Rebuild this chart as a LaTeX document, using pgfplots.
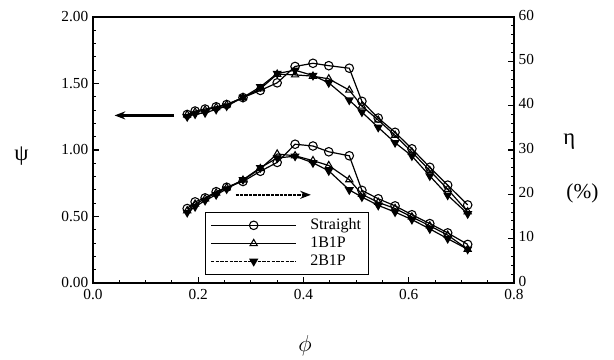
\documentclass[border=0pt]{standalone}
\usepackage{fontspec}
\setmainfont{Liberation Serif}
\usepackage{pgfplots}
\pgfplotsset{compat=1.18}
\usetikzlibrary{arrows.meta}
\begin{document}
\begin{tikzpicture}
\pgfplotsset{
  common/.style={
    scale only axis, width=315.75pt, height=199.5pt,
    xmin=0, xmax=0.8,
    tick align=inside,
    /pgf/number format/assume math mode=true,
    tick label style={font=\fontsize{11.5}{12}\selectfont},
    major tick length=4.5pt, minor tick length=2.5pt,
    every tick/.style={black, line width=0.8pt},
  },
  legimg/.style={legend image code/.code={%
    \draw[mark repeat=2,mark phase=2,##1] plot coordinates {(0pt,0pt) (32pt,0pt) (64pt,0pt)};
    \path (72pt,0pt);}},
  s1/.style={black, line width=0.9pt, mark=o, mark size=3.2pt, mark options={solid, line width=0.8pt}},
  s2/.style={black, line width=0.9pt, mark=triangle, mark size=3.1pt, mark options={solid, line width=0.8pt}},
  s3/.style={black, line width=0.9pt, mark=triangle*, mark size=3.1pt, mark options={solid, rotate=180, fill=black}},
}
\begin{axis}[common, name=ax,
  ymin=0, ymax=2,
  xtick={0,0.2,0.4,0.6,0.8}, ytick={0,0.5,1,1.5,2},
  minor x tick num=3, minor y tick num=4,
  xtick pos=bottom, ytick pos=left,
  xticklabel style={yshift=-1.5pt, /pgf/number format/.cd, fixed, fixed zerofill, precision=1},
  yticklabel style={/pgf/number format/.cd, fixed, fixed zerofill, precision=2},
  axis line style={line width=1.1pt},
  clip=false,
  legimg,
  legend cell align=left,
  legend style={at={(axis cs:0.212,0.537)}, anchor=north west, draw=black, line width=0.8pt,
    font=\fontsize{12}{12}\selectfont, row sep=0pt, inner xsep=4pt, inner ysep=3pt},
]
\addplot[s1] coordinates {
(0.179,1.267) (0.194,1.293) (0.213,1.308) (0.234,1.325) (0.254,1.342) (0.285,1.394)
(0.318,1.448) (0.350,1.505) (0.384,1.628) (0.418,1.652) (0.448,1.634) (0.487,1.615)
(0.511,1.366) (0.542,1.240) (0.574,1.133) (0.606,1.009) (0.640,0.870) (0.674,0.736) (0.712,0.587)};
\addlegendentry{Straight}
\addplot[s2] coordinates {
(0.179,1.265) (0.194,1.285) (0.213,1.300) (0.234,1.320) (0.254,1.340) (0.285,1.395)
(0.318,1.460) (0.350,1.570) (0.384,1.565) (0.418,1.555) (0.448,1.535) (0.487,1.450)
(0.511,1.330) (0.542,1.225) (0.574,1.110) (0.606,0.985) (0.640,0.845) (0.674,0.705) (0.712,0.535)};
\addlegendentry{1B1P}
\addplot[s3, legend image code/.code={%
    \draw[dash pattern=on 2.5pt off 1pt, line width=0.9pt, black] (0pt,0pt) -- (64pt,0pt);
    \draw[mark=triangle*, mark size=3.1pt, mark options={solid, rotate=180, fill=black}] plot coordinates {(32pt,0pt)};
    \path (72pt,0pt);}] coordinates {
(0.179,1.250) (0.194,1.270) (0.213,1.280) (0.234,1.305) (0.254,1.330) (0.285,1.395)
(0.318,1.475) (0.350,1.575) (0.384,1.600) (0.418,1.560) (0.448,1.505) (0.487,1.375)
(0.511,1.285) (0.542,1.170) (0.574,1.055) (0.606,0.955) (0.640,0.805) (0.674,0.660) (0.712,0.520)};
\addlegendentry{2B1P}
\draw[line width=2pt, -{Stealth[length=8pt,width=6pt]}] (axis cs:0.154,1.26) -- (axis cs:0.041,1.26);
\draw[line width=1.6pt, dash pattern=on 2.5pt off 0.8pt, -{Stealth[length=8pt,width=6pt]}] (axis cs:0.271,0.663) -- (axis cs:0.414,0.663);
\node[font=\fontsize{17}{17}\selectfont] at (axis cs:-0.136,0.957) {ψ};
\node[font=\fontsize{17}{17}\selectfont] at (axis cs:0.905,1.06) {η};
\node[font=\fontsize{16}{16}\selectfont] at (axis cs:0.930,0.671) {(\%)};
\node[font=\fontsize{17}{17}\selectfont] at (axis cs:0.403,-0.472) {$\phi$};
\end{axis}
\begin{axis}[common,
  axis x line=none, axis y line*=right,
  ymin=0, ymax=60, ytick={0,10,20,30,40,50,60}, minor y tick num=4,
  axis line style={line width=1.3pt},
  yticklabel style={yshift=1.5pt, /pgf/number format/.cd, fixed, precision=0},
]
\addplot[s1] coordinates {
(0.179,16.8) (0.194,18.3) (0.213,19.2) (0.234,20.6) (0.254,21.6) (0.285,22.9)
(0.318,25.2) (0.350,27.2) (0.384,31.3) (0.418,30.9) (0.448,29.6) (0.487,28.7)
(0.511,20.9) (0.542,19.0) (0.574,17.4) (0.606,15.4) (0.640,13.4) (0.674,11.3) (0.712,8.7)};
\addplot[s2] coordinates {
(0.179,16.3) (0.194,17.8) (0.213,19.0) (0.234,20.3) (0.254,21.5) (0.285,23.2)
(0.318,25.8) (0.350,29.1) (0.384,28.7) (0.418,27.6) (0.448,26.5) (0.487,23.3)
(0.511,20.0) (0.542,18.2) (0.574,16.8) (0.606,14.9) (0.640,12.9) (0.674,10.8) (0.712,7.6)};
\addplot[s3] coordinates {
(0.179,15.9) (0.194,17.2) (0.213,18.6) (0.234,19.9) (0.254,21.2) (0.285,23.3)
(0.318,26.0) (0.350,28.2) (0.384,28.6) (0.418,27.1) (0.448,25.3) (0.487,21.0)
(0.511,19.4) (0.542,17.5) (0.574,16.0) (0.606,14.3) (0.640,12.2) (0.674,10.0) (0.712,7.6)};
\end{axis}
\pgfresetboundingbox
\path[use as bounding box] ([shift={(-69.75pt,-57.75pt)}]ax.south west) rectangle ([shift={(75pt,12.75pt)}]ax.north east);
\end{tikzpicture}
\end{document}
